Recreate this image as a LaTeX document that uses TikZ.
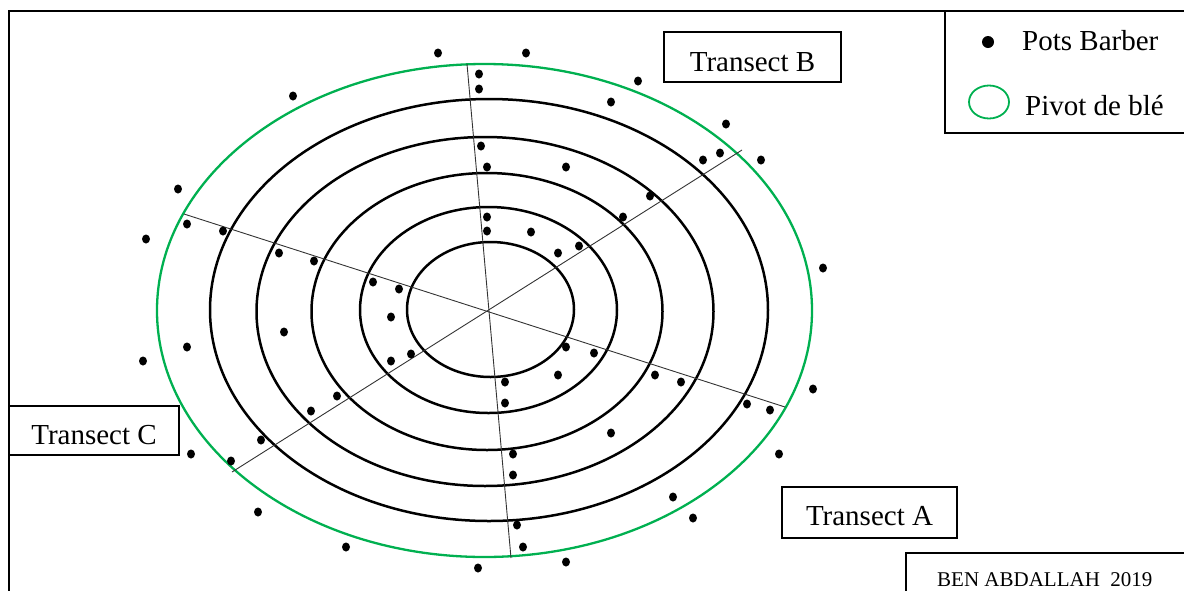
\documentclass[tikz,border=0pt]{standalone}
\usepackage{fontspec}
\setmainfont{Liberation Serif}
\usetikzlibrary{shapes.geometric}
\definecolor{pivotgreen}{RGB}{0,176,80}
\begin{document}
\begin{tikzpicture}[x=1pt,y=-1pt,
  ring/.style={line width=2.5pt},
  pivot/.style={draw=pivotgreen,line width=2.3pt},
  transect/.style={line width=0.9pt,draw=black!80},
  frameline/.style={line width=2.2pt},
  labelbox/.style={draw,line width=1.6pt,inner sep=0pt,
    font=\fontsize{29}{34}\selectfont,text height=28pt,text depth=0pt},
  legendtext/.style={anchor=base west,inner sep=0pt,font=\fontsize{29}{34}\selectfont},
  pot/.style={fill,ellipse,inner sep=0pt,minimum width=8pt,minimum height=9pt}]
\useasboundingbox (0,0) rectangle (1184,590);
\clip (0,0) rectangle (1184,590);

% outer frame
\draw[frameline] (9,600) -- (9,11) -- (1200,11);

% pivot and concentric rings
\draw[pivot] (484.5,310.5) ellipse [x radius=327.5pt, y radius=246.5pt];
\draw[ring] (489,310) ellipse [x radius=279pt, y radius=211pt];
\draw[ring] (485,311.5) ellipse [x radius=228.5pt, y radius=174.5pt];
\draw[ring] (487,311.5) ellipse [x radius=175.5pt, y radius=138.5pt];
\draw[ring] (488.5,310) ellipse [x radius=128.5pt, y radius=103pt];
\draw[ring] (490.5,309.5) ellipse [x radius=83.5pt, y radius=67.5pt];

% transect lines
\coordinate (bN) at (467,64);
\coordinate (bS) at (511,558);
\coordinate (aW) at (184,214);
\coordinate (aE) at (785,407);
\coordinate (cSW) at (232,472);
\coordinate (cNE) at (742,150);
\draw[transect] (bN) -- (bS);
\draw[transect] (aW) -- (aE);
\draw[transect] (cSW) -- (cNE);

% Barber pots
\foreach \px/\py [count=\i] in {438/53,526/53,479/74,479/89,293/96,638/81,611/102,
  726/124,481/146,487/167,566/167,720/153,703/160,761/160,178/189,650/196,
  187/224,223/231,146/239,487/217,487/231,531/232,623/217,579/246,558/253,
  279/253,314/261,823/268,373/282,399/289,391/317,284/332,187/347,143/361,
  411/354,391/361,566/347,594/353,558/375,505/382,505/403,655/375,681/382,
  813/389,747/404,770/410,337/396,311/411,611/433,261/440,191/454,231/461,
  779/454,513/454,513/475,673/497,693/518,258/512,517/525,523/547,346/547,
  566/562,478/568}
  \node[pot] (pot\i) at (\px,\py) {};

% transect labels
\node[labelbox,minimum width=177pt,minimum height=50pt] (tB) at (752.5,57) {Transect B};
\node[labelbox,minimum width=175pt,minimum height=51pt,text height=25pt] (tA) at (869.5,512.5) {Transect A};
\node[labelbox,minimum width=170pt,minimum height=49pt,text height=27pt] (tC) at (94,430.5) {Transect C};

% legend
\draw[frameline,line width=1.8pt] (1200,133) -- (945,133) -- (945,11);
\node[fill,circle,inner sep=0pt,minimum size=12pt] (legpot) at (988,42) {};
\node[legendtext] (legpottext) at (1022,50) {Pots Barber};
\draw[pivot,line width=1.8pt] (989,102) ellipse [x radius=20pt, y radius=16.5pt];
\node[legendtext] (legpivottext) at (1025,115) {Pivot de blé};

% author credit
\draw[line width=1.6pt] (906,600) -- (906,553) -- (1200,553);
\node[anchor=base west,inner sep=0pt,font=\fontsize{21}{25}\selectfont] (credit) at (937,586) {BEN ABDALLAH~ 2019};
\end{tikzpicture}
\end{document}
